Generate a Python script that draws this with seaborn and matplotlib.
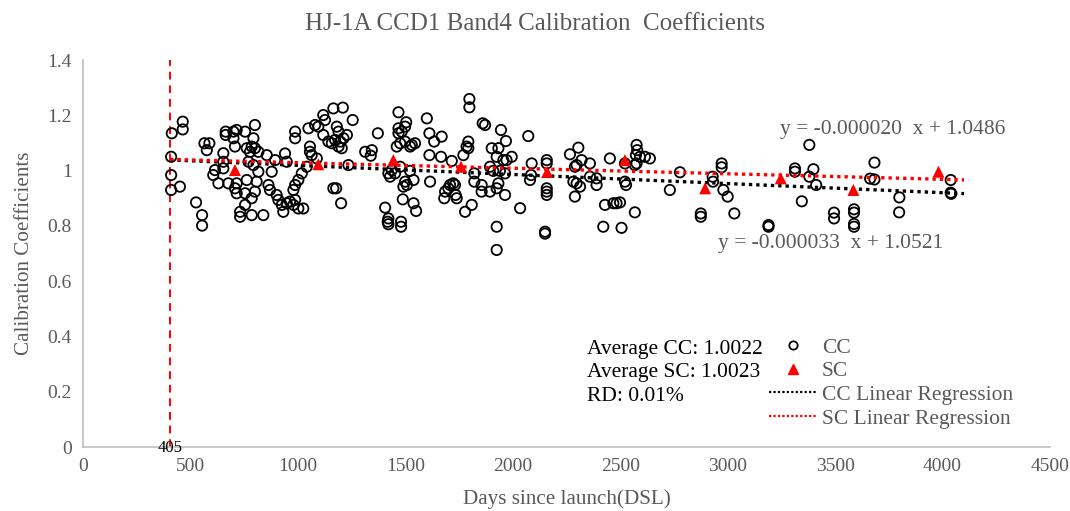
import matplotlib
matplotlib.use("Agg")
import matplotlib.pyplot as plt
import seaborn as sns
import numpy as np
from matplotlib.lines import Line2D

# ---------------- data ----------------
cc_days = [
    413, 410, 410, 410, 451, 464, 464, 526, 554, 554, 565, 588, 576, 614, 606, 630,
    664, 664, 700, 715, 754, 700, 707, 653, 653, 653, 676, 707, 715, 715, 731, 731,
    754, 754, 762, 762,
    800, 793, 785, 800, 816, 777, 770, 793, 816, 878, 855, 894, 940, 948, 863, 870,
    901, 909, 925, 948, 963, 987, 1002, 1025, 979, 932, 808, 800, 785, 785, 839, 987,
    987, 1049, 1080, 1095, 1118, 1126, 1118, 1142, 1056, 1056, 1064, 1041, 1018, 1002,
    987, 979, 1165, 1165, 1088,
    1209, 1255, 1181, 1189, 1173, 1197, 1212, 1228, 1189, 1204, 1158, 1313, 1344, 1339,
    1372, 1235, 1178, 1201, 1468, 1504, 1468, 1468, 1483, 1499, 1460, 1476, 1499, 1522,
    1530, 1545, 1437, 1421, 1429, 1452, 1476, 1522, 1538, 1499, 1491, 1507, 1488, 1538,
    1550, 1406, 1421, 1418, 1421, 1480, 1480, 1600, 1612, 1634, 1612, 1615,
    1798, 1798, 1860, 1871, 1945, 1968, 2072, 1669, 1793, 1793, 1785, 1770, 1666, 1716,
    1902, 1933, 1925, 1956, 1971, 1995, 1894, 1909, 1940, 1964, 1821, 2088, 2085, 2080,
    2158, 2158, 2158, 2158, 2158, 1708, 1723, 1731, 1700, 1685, 1681, 1734, 1739, 1821,
    1855, 1855, 1894, 1933, 1925, 1964, 1809, 1778, 2034, 1925, 1925, 2150, 2150,
    2305, 2266, 2320, 2297, 2289, 2359, 2282, 2297, 2313, 2359, 2289, 2390, 2390, 2429,
    2468, 2483, 2499, 2568, 2421, 2506, 2452, 2522, 2522, 2527, 2576, 2579, 2573, 2592,
    2615, 2638, 2576, 2568, 2731, 2778,
    2972, 2972, 2930, 2932, 2980, 3000, 2875, 2875, 3031, 3190, 3190, 3313, 3313, 3345,
    3380, 3399, 3380, 3412, 3495, 3495, 3588, 3588, 3588, 3588, 3683, 3663, 3683, 3799,
    3798, 4038, 4038, 4040,
]
cc_values = [
    1.135, 1.050, 0.984, 0.930, 0.942, 1.177, 1.149, 0.885, 0.839, 0.801, 1.099, 1.099, 1.074, 1.002, 0.984, 0.954,
    1.141, 1.129, 1.141, 1.147, 1.141, 1.117, 1.087, 1.063, 1.032, 1.008, 0.954, 0.936, 0.918, 0.954, 0.851, 0.833,
    0.876, 0.918, 0.966, 1.081,
    1.165, 1.117, 1.087, 1.081, 1.068, 1.068, 1.032, 1.020, 0.996, 0.996, 1.056, 1.038, 1.062, 1.032, 0.948, 0.930,
    0.912, 0.894, 0.876, 0.882, 0.888, 0.894, 0.863, 0.863, 0.876, 0.851, 0.960, 0.924, 0.900, 0.839, 0.839, 1.141,
    1.117, 1.153, 1.165, 1.159, 1.201, 1.183, 1.129, 1.105, 1.087, 1.068, 1.056, 1.014, 0.990, 0.966,
    0.948, 0.930, 1.225, 0.936, 1.044,
    1.228, 1.183, 1.159, 1.141, 1.111, 1.105, 1.117, 1.129, 1.087, 1.081, 1.099, 1.068, 1.074, 1.054,
    1.135, 1.020, 0.936, 0.882, 1.211, 1.175, 1.153, 1.135, 1.141, 1.159, 1.087, 1.099, 1.105, 1.087,
    1.093, 1.099, 1.002, 0.990, 0.978, 0.990, 1.014, 0.999, 0.966, 0.960, 0.942, 0.948, 0.896, 0.882,
    0.854, 0.866, 0.827, 0.815, 0.806, 0.815, 0.797, 1.189, 1.135, 1.105, 1.056, 0.960,
    1.259, 1.229, 1.171, 1.165, 1.147, 1.107, 1.125, 1.123, 1.105, 1.081, 1.087, 1.056, 1.050, 1.035,
    1.081, 1.081, 1.050, 1.038, 1.038, 1.050, 1.014, 0.999, 0.999, 0.990, 0.990, 1.026, 0.984, 0.966,
    1.038, 1.026, 0.936, 0.924, 0.912, 0.948, 0.954, 0.948, 0.936, 0.924, 0.900, 0.912, 0.900, 0.960,
    0.948, 0.924, 0.924, 0.954, 0.936, 0.912, 0.876, 0.851, 0.864, 0.797, 0.713, 0.779, 0.772,
    1.083, 1.059, 1.038, 1.020, 1.014, 1.026, 0.960, 0.954, 0.942, 0.978, 0.906, 0.972, 0.948, 0.876,
    0.882, 0.882, 0.885, 0.849, 0.797, 0.793, 1.044, 1.026, 0.960, 0.948, 1.093, 1.074, 1.056, 1.050,
    1.050, 1.044, 1.026, 1.020, 0.930, 0.994,
    1.026, 1.012, 0.978, 0.960, 0.930, 0.906, 0.845, 0.833, 0.845, 0.803, 0.797, 1.008, 0.996, 0.889,
    1.093, 1.005, 0.978, 0.948, 0.848, 0.827, 0.860, 0.848, 0.807, 0.797, 1.029, 0.971, 0.968, 0.903,
    0.849, 0.966, 0.920, 0.916,
]
sc_days = [707, 1095, 1444, 1759, 2160, 2522, 2895, 3247, 3585, 3981]
sc_values = [1.002, 1.023, 1.038, 1.014, 0.995, 1.038, 0.936, 0.972, 0.930, 0.996]

fit_names = ["CC Linear Regression", "SC Linear Regression"]
fit_slopes = [-0.000033, -0.000020]
fit_intercepts = [1.0521, 1.0486]
fit_range = [405, 4100]
launch_marker_day = 405

x_ticks = [0, 500, 1000, 1500, 2000, 2500, 3000, 3500, 4000, 4500]
y_ticks = [0, 0.2, 0.4, 0.6, 0.8, 1.0, 1.2, 1.4]
y_tick_labels = ["0", "0.2", "0.4", "0.6", "0.8", "1", "1.2", "1.4"]

# ---------------- style ----------------
sns.set_theme(style="white")
plt.rcParams["font.family"] = ["Liberation Serif", "DejaVu Serif"]
GRAY = "#595959"

fig = plt.figure(figsize=(10.7, 5.11), dpi=100)
ax = fig.add_axes([0.0776, 0.1252, 0.9037, 0.7573])

# vertical launch marker
ax.axvline(launch_marker_day, ymin=0, ymax=1, color="red", linestyle=(0, (4, 3)), linewidth=1.4, zorder=1)

# scatter points
sns.scatterplot(x=cc_days, y=cc_values, ax=ax, marker="o", s=55,
                facecolor="none", edgecolor="black", linewidth=1.3, zorder=3)
sns.scatterplot(x=sc_days, y=sc_values, ax=ax, marker="^", s=75,
                color="red", edgecolor="none", linewidth=0, zorder=5)

# regression lines
fx = np.array(fit_range, dtype=float)
line_colors = ["black", "red"]
for slope, icpt, col in zip(fit_slopes, fit_intercepts, line_colors):
    ax.plot(fx, slope * fx + icpt, color=col, linestyle=(0, (1, 1.2)), linewidth=2.4, zorder=4)

# axes
ax.set_xlim(0, 4500)
ax.set_ylim(0, 1.4)
ax.set_xticks(x_ticks)
ax.set_xticklabels([str(t) for t in x_ticks])
ax.set_yticks(y_ticks)
ax.set_yticklabels(y_tick_labels)
ax.tick_params(axis="both", length=0, labelsize=14, labelcolor=GRAY, pad=8)
for s in ["top", "right"]:
    ax.spines[s].set_visible(False)
for s in ["left", "bottom"]:
    ax.spines[s].set_color("#bfbfbf")
    ax.spines[s].set_linewidth(1.2)
ax.grid(False)

ax.set_xlabel("Days since launch(DSL)", fontsize=15.2, color=GRAY, labelpad=10)
ax.set_ylabel("Calibration Coefficients", fontsize=15.2, color=GRAY, labelpad=10)
fig.suptitle("HJ-1A CCD1 Band4 Calibration  Coefficients", fontsize=18, color=GRAY, y=0.975)

# equations
ax.text(3244, 1.147, "y = -0.000020  x + 1.0486", fontsize=15.5, color=GRAY, va="center", ha="left")
ax.text(2955, 0.738, "y = -0.000033  x + 1.0521", fontsize=15.5, color=GRAY, va="center", ha="left")

# summary statistics
ax.text(2346, 0.354, "Average CC: 1.0022", fontsize=15.5, color="black", va="center")
ax.text(2346, 0.268, "Average SC: 1.0023", fontsize=15.5, color="black", va="center")
ax.text(2346, 0.181, "RD: 0.01%", fontsize=15.5, color="black", va="center")

ax.text(launch_marker_day, -0.005, "405", fontsize=12, color="black", ha="center", va="center", zorder=6)

# legend
handles = [
    Line2D([], [], linestyle="none", marker="o", markersize=6, markerfacecolor="none",
           markeredgecolor="black", markeredgewidth=1.3),
    Line2D([], [], linestyle="none", marker="^", markersize=7, color="red"),
    Line2D([], [], color="black", linestyle=(0, (1, 1)), linewidth=1.6),
    Line2D([], [], color="red", linestyle=(0, (1, 1)), linewidth=1.6),
]
labels = ["CC", "SC"] + fit_names
leg = ax.legend(handles, labels, loc="upper left", bbox_to_anchor=(0.7095, 0.282),
                frameon=False, fontsize=15.5, handlelength=2.2, handletextpad=0.25,
                labelspacing=0.16, borderaxespad=0, borderpad=0)
for t in leg.get_texts():
    t.set_color(GRAY)

fig.savefig("out.png", dpi=100)
